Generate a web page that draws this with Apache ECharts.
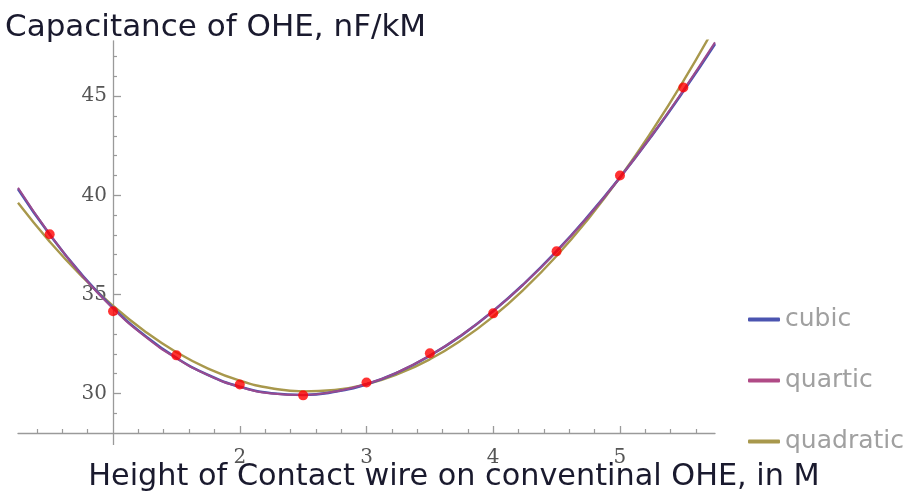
<!DOCTYPE html>
<html>
<head>
<meta charset="utf-8">
<script src="https://cdn.jsdelivr.net/npm/echarts@6/dist/echarts.min.js"></script>
<style>html,body{margin:0;padding:0;background:#fff;}#c{width:909px;height:494px;}</style>
</head>
<body>
<div id="c"></div>
<script>
// Measured data points
const pointX = [0.5, 1, 1.5, 2, 2.5, 3, 3.5, 4, 4.5, 5, 5.5];
const pointY = [38.03, 34.15, 31.92, 30.45, 29.9, 30.55, 32.03, 34.04, 37.17, 41.0, 45.44];

// Fitted curves
const curveX = [0.25, 0.5, 0.75, 1, 1.25, 1.5, 1.75, 2, 2.25, 2.5, 2.75, 3, 3.25, 3.5, 3.75, 4, 4.25, 4.5, 4.75, 5, 5.25, 5.5, 5.75];
const cubicY = [40.32, 38.02, 36.02, 34.32, 32.92, 31.79, 30.93, 30.34, 30.01, 29.92, 30.08, 30.46, 31.07, 31.90, 32.93, 34.16, 35.58, 37.18, 38.96, 40.90, 43.00, 45.25, 47.64];
const quarticY = [40.38, 38.04, 36.00, 34.28, 32.88, 31.77, 30.92, 30.33, 30.00, 29.92, 30.09, 30.47, 31.08, 31.91, 32.94, 34.16, 35.57, 37.16, 38.94, 40.89, 43.01, 45.30, 47.72];
const quadraticY = [39.62, 37.66, 35.93, 34.42, 33.14, 32.08, 31.25, 30.64, 30.26, 30.10, 30.17, 30.46, 30.98, 31.72, 32.69, 33.88, 35.30, 36.94, 38.81, 40.90, 43.22, 45.76, 48.53];

// Ticks
const xMajorTicks = [2, 3, 4, 5];
const xOriginTick = [1];
const xTickLabels = [2, 3, 4, 5];
const xMinorTicks = [0.4, 0.6, 0.8, 1.2, 1.4, 1.6, 1.8, 2.2, 2.4, 2.6, 2.8, 3.2, 3.4, 3.6, 3.8, 4.2, 4.4, 4.6, 4.8, 5.2, 5.4, 5.6];
const yTickLabels = [30, 35, 40, 45];
const yMinorTicks = [29, 31, 32, 33, 34, 36, 37, 38, 39, 41, 42, 43, 44, 46, 47];

const seriesNames = ['cubic', 'quartic', 'quadratic'];

function pairs(xs, ys) { return xs.map((x, i) => [x, ys[i]]); }

const axisColor = '#9a9a9a';
const labelStyle = { fontFamily: 'DejaVu Serif', fontSize: 20, color: '#555' };
const X_MIN = 0.25, X_MAX = 5.75, Y_MIN = 28, Y_MAX = 47.8;
const Y_OFFSET = -95;

const chart = echarts.init(document.getElementById('c'));
chart.setOption({
  animation: false,
  backgroundColor: '#fff',
  title: {
    text: 'Capacitance of OHE, nF/kM',
    left: 0, top: 7,
    textStyle: { fontFamily: 'DejaVu Sans', fontSize: 31, fontWeight: 'normal', color: '#1a1a2e' }
  },
  graphic: [{
    type: 'text', x: 454, y: 477,
    style: {
      text: 'Height of Contact wire on conventinal OHE, in M',
      fontFamily: 'DejaVu Sans', fontSize: 30.3, fill: '#1a1a2e',
      align: 'center', verticalAlign: 'middle'
    }
  }],
  legend: {
    orient: 'vertical', left: 743, top: 302, itemGap: 36,
    data: seriesNames,
    icon: 'roundRect', itemWidth: 32, itemHeight: 4,
    textStyle: { fontFamily: 'DejaVu Sans', fontSize: 25, color: '#a0a0a0' }
  },
  grid: { left: 18, right: 194, top: 40.8, bottom: 61, containLabel: false },
  xAxis: [{
    type: 'value', min: X_MIN, max: X_MAX,
    axisLine: { show: true, lineStyle: { color: axisColor, width: 1.3 } },
    axisTick: { show: true, inside: true, length: 7, customValues: xMajorTicks, lineStyle: { color: axisColor, width: 1.3 } },
    axisLabel: { customValues: xTickLabels, margin: 15, ...labelStyle },
    splitLine: { show: false }
  }, {
    type: 'value', min: X_MIN, max: X_MAX, position: 'bottom',
    axisLine: { show: false },
    axisTick: { show: true, inside: true, length: 4, customValues: xMinorTicks, lineStyle: { color: axisColor, width: 1.2 } },
    axisLabel: { show: false },
    splitLine: { show: false }
  }, {
    type: 'value', min: X_MIN, max: X_MAX, position: 'bottom',
    axisLine: { show: false },
    axisTick: { show: true, inside: false, length: 12, customValues: xOriginTick, lineStyle: { color: axisColor, width: 1.3 } },
    axisLabel: { show: false },
    splitLine: { show: false }
  }],
  yAxis: [{
    type: 'value', min: Y_MIN, max: Y_MAX, offset: Y_OFFSET,
    axisLine: { show: true, lineStyle: { color: axisColor, width: 1.3 } },
    axisTick: { show: true, inside: true, length: 8, customValues: yTickLabels, lineStyle: { color: axisColor, width: 1.3 } },
    axisLabel: { customValues: yTickLabels, margin: 6, ...labelStyle },
    splitLine: { show: false }
  }, {
    type: 'value', min: Y_MIN, max: Y_MAX, offset: Y_OFFSET, position: 'left',
    axisLine: { show: false },
    axisTick: { show: true, inside: true, length: 4, customValues: yMinorTicks, lineStyle: { color: axisColor, width: 1.2 } },
    axisLabel: { show: false },
    splitLine: { show: false }
  }],
  series: [
    { name: 'quadratic', type: 'line', smooth: true, symbol: 'none', clip: true,
      data: pairs(curveX, quadraticY), lineStyle: { color: '#a8984c', width: 2.4 }, itemStyle: { color: '#a8984c' } },
    { name: 'cubic', type: 'line', smooth: true, symbol: 'none', clip: true,
      data: pairs(curveX, cubicY), lineStyle: { color: '#4b54b0', width: 2.6 }, itemStyle: { color: '#4b54b0' } },
    { name: 'quartic', type: 'line', smooth: true, symbol: 'none', clip: true,
      data: pairs(curveX, quarticY), lineStyle: { color: '#9a4a8e', width: 2.0 }, itemStyle: { color: '#b04a86' } },
    { name: 'data', type: 'scatter', symbol: 'circle', symbolSize: 10,
      data: pairs(pointX, pointY), itemStyle: { color: '#ff0000' }, z: 5 }
  ]
});
</script>
</body>
</html>
